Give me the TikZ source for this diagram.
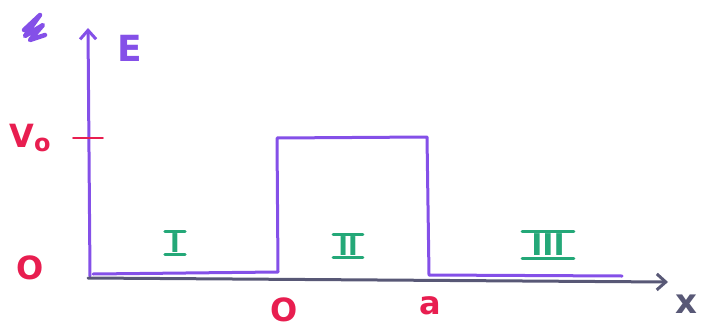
\documentclass[tikz,border=0pt]{standalone}
\usepackage{fontspec}
\setmainfont{DejaVu Sans}
\usetikzlibrary{arrows.meta}
\definecolor{pur}{RGB}{132,80,232}
\definecolor{rd}{RGB}{232,30,80}
\definecolor{gr}{RGB}{36,168,120}
\definecolor{gy}{RGB}{88,88,118}
\tikzset{
  potline/.style={pur, line width=3pt, line cap=round, line join=round},
  axisline/.style={gy, line width=3pt, line cap=round},
  redlbl/.style={rd, font=\fontsize{32}{32}\selectfont\bfseries, inner sep=0pt},
  grlbl/.style={gr, font=\fontsize{26}{26}\selectfont\bfseries, inner xsep=5pt, inner ysep=2pt},
  bar/.style={gr, line width=3pt, line cap=round},
}
\begin{document}
\begin{tikzpicture}[x=1pt,y=-1pt]
\useasboundingbox (0,0) rectangle (703,329);
% scribble
\draw[pur, line width=4.5pt, line cap=round, line join=round]
  (24,30) -- (40,15) -- (25,36) -- (43,25) -- (30,40) -- (45,35);
% E axis
\coordinate (o) at (90,276);
\coordinate (etop) at (88,28);
\draw[potline, -{Straight Barb[length=9pt,width=16pt,line width=3pt]}] (o) -- (etop);
\node[pur, font=\fontsize{36}{36}\selectfont\bfseries, inner sep=0pt] (E) at (130,48) {E};
% x axis
\coordinate (xs) at (88,278);
\coordinate (xe) at (668,282);
\draw[axisline, -{Straight Barb[length=9pt,width=16pt,line width=3pt]}] (xs) -- (xe);
\node[gy, font=\fontsize{34}{34}\selectfont\bfseries, inner sep=0pt] (x) at (686,304) {x};
% V0 tick
\coordinate (t1) at (73,138);
\coordinate (t2) at (103,138);
\draw[rd, line width=1.8pt, line cap=round] (t1) -- (t2);
\node[redlbl] (V0) at (30,138) {V\raisebox{-4pt}{\fontsize{24}{24}\selectfont o}};
\node[redlbl] (zero) at (30,268) {O};
% potential
\coordinate (p1) at (93,274);
\coordinate (p2) at (278,272);
\coordinate (p3) at (277,138);
\coordinate (p4) at (427,137);
\coordinate (p5) at (429,275);
\coordinate (p6) at (622,276);
\draw[potline] (p1) -- (p2) -- (p3) -- (p4) -- (p5) -- (p6);
% x labels
\node[redlbl] (zx) at (284,310) {O};
\node[redlbl] (ax) at (430,306) {a};
% region labels
\node[grlbl] (r1) at (175,243) {I};
\node[grlbl] (r2) at (348,246) {II};
\node[grlbl, font=\fontsize{30}{30}\selectfont\bfseries, inner xsep=9pt] (r3) at (548,245) {III};
\foreach \n in {r1,r2,r3}{
  \draw[bar] (\n.north west) -- (\n.north east);
  \draw[bar] (\n.south west) -- (\n.south east);
}
\end{tikzpicture}
\end{document}
